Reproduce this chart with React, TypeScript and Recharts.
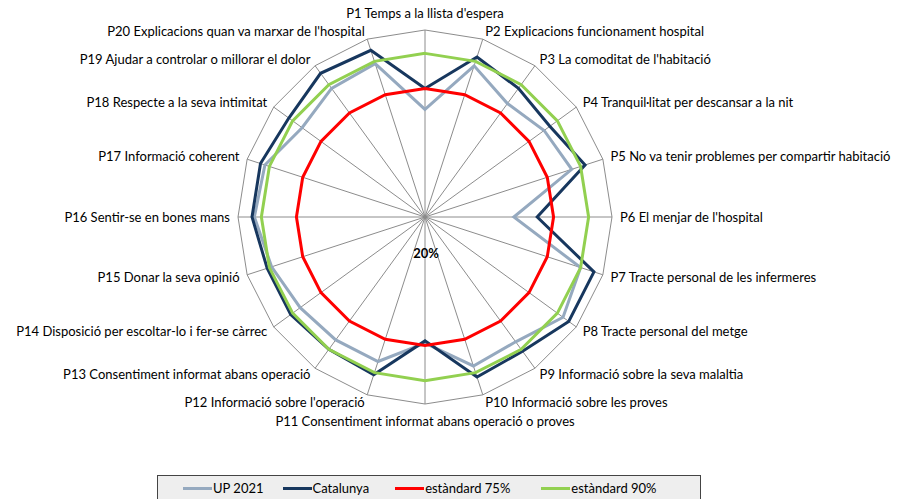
import React from 'react';
import { RadarChart, Radar, PolarGrid, PolarAngleAxis, PolarRadiusAxis, Legend } from 'recharts';

const categories = [
  "P1 Temps a la llista d'espera",
  'P2 Explicacions funcionament hospital',
  "P3 La comoditat de l'habitació",
  'P4 Tranquil·litat per descansar a la nit',
  'P5 No va tenir problemes per compartir habitació',
  "P6 El menjar de l'hospital",
  'P7 Tracte personal de les infermeres',
  'P8 Tracte personal del metge',
  'P9 Informació sobre la seva malaltia',
  'P10 Informació sobre les proves',
  'P11 Consentiment informat abans operació o proves',
  "P12 Informació sobre l'operació",
  'P13 Consentiment informat abans operació',
  'P14 Disposició per escoltar-lo i fer-se càrrec',
  'P15 Donar la seva opinió',
  'P16 Sentir-se en bones mans',
  'P17 Informació coherent',
  'P18 Respecte a la seva intimitat',
  'P19 Ajudar a controlar o millorar el dolor',
  "P20 Explicacions quan va marxar de l'hospital",
];

const up2021 = [0.66, 0.88, 0.8, 0.83, 0.86, 0.58, 0.9, 0.93, 0.86, 0.87, 0.74, 0.85, 0.85, 0.86, 0.89, 0.93, 0.92, 0.85, 0.88, 0.89];
const catalunya = [0.75, 0.92, 0.88, 0.86, 0.92, 0.68, 0.96, 0.96, 0.91, 0.92, 0.73, 0.91, 0.9, 0.91, 0.91, 0.94, 0.94, 0.92, 0.96, 0.95];
const std75 = [0.75, 0.75, 0.75, 0.75, 0.75, 0.75, 0.75, 0.75, 0.75, 0.75, 0.75, 0.75, 0.75, 0.75, 0.75, 0.75, 0.75, 0.75, 0.75, 0.75];
const std90 = [0.9, 0.9, 0.9, 0.9, 0.9, 0.9, 0.9, 0.9, 0.9, 0.9, 0.9, 0.9, 0.9, 0.9, 0.9, 0.9, 0.9, 0.9, 0.9, 0.9];

// radial axis runs from 20% (centre) to 100% (outer ring)
const AXIS_MIN = 0.2;
const AXIS_MAX = 1;

const series = [
  { key: 'up', name: 'UP 2021', color: '#95a9bf' },
  { key: 'cat', name: 'Catalunya', color: '#17375e' },
  { key: 's75', name: 'estàndard 75%', color: '#ff0000' },
  { key: 's90', name: 'estàndard 90%', color: '#92d050' },
];

// map a percentage onto the 20%..100% axis (0 = centre, 1 = outer ring)
const toAxis = (v: number) => +((v - AXIS_MIN) / (AXIS_MAX - AXIS_MIN)).toFixed(4);

const data = categories.map((name, i) => ({
  name,
  up: toAxis(up2021[i]),
  cat: toAxis(catalunya[i]),
  s75: toAxis(std75[i]),
  s90: toAxis(std90[i]),
}));

const CX = 417;
const CY = 209;
const R = 187;
const FONT = 'Lato, "Open Sans", sans-serif';

const AngleTick = (props: any) => {
  const { payload } = props;
  let idx = props.index;
  if (idx === undefined) idx = categories.indexOf(payload.value);
  const phi = (idx * 2 * Math.PI) / categories.length;
  const s = Math.sin(phi);
  const c = Math.cos(phi);
  const vy = CY - R * c;
  let x = CX + (R + 8) * s;
  let y = vy - 8 * c;
  let anchor: 'start' | 'end' | 'middle' = 'start';
  if (Math.abs(s) < 0.01) {
    anchor = 'middle';
    x = CX;
    y = vy - 17 * c;
  } else if (s < 0) {
    anchor = 'end';
  }
  return (
    <text x={x} y={y} dy={4.5} textAnchor={anchor} fontSize={13} fontFamily={FONT} fill="#000">
      {payload.value}
    </text>
  );
};

const RadiusTick = (props: any) => {
  if (props.index !== 0) return null;
  return (
    <text x={CX + 1} y={CY + 41} textAnchor="middle" fontSize={13} fontWeight="bold" fontFamily={FONT} fill="#000">
      {Math.round(AXIS_MIN * 100)}%
    </text>
  );
};

const LegendBox = () => (
  <div
    style={{
      width: 544,
      height: 26,
      boxSizing: 'border-box',
      border: '1px solid #444',
      background: '#eeeeee',
      display: 'flex',
      alignItems: 'center',
      fontFamily: FONT,
      fontSize: 13,
      color: '#000',
      paddingLeft: 25,
    }}
  >
    {series.map((s, i) => (
      <div key={s.key} style={{ display: 'flex', alignItems: 'center', marginRight: i === 0 ? 19 : i === 1 ? 26 : 31 }}>
        <span style={{ display: 'inline-block', width: 29, height: 3, background: s.color, marginRight: 1 }} />
        <span>{s.name}</span>
      </div>
    ))}
  </div>
);

export default function App() {
  return (
    <div style={{ width: 886, height: 491, position: 'relative' }}>
      <RadarChart width={886} height={491} data={data} cx={CX} cy={CY} outerRadius={R} margin={{ top: 0, right: 0, bottom: 0, left: 0 }}>
        <PolarGrid gridType="polygon" polarRadius={[R]} stroke="#8c8c8c" strokeWidth={1} />
        <PolarAngleAxis dataKey="name" tick={<AngleTick />} tickLine={false} axisLine={false} />
        <PolarRadiusAxis
          angle={270}
          type="number"
          domain={[0, 1]}
          tickCount={5}
          axisLine={false}
          tick={<RadiusTick />}
        />
        {series.map((s) => (
          <Radar
            key={s.key}
            name={s.name}
            dataKey={s.key}
            stroke={s.color}
            strokeWidth={3}
            fill="none"
            fillOpacity={0}
            dot={false}
            isAnimationActive={false}
          />
        ))}
        <Legend content={<LegendBox />} wrapperStyle={{ position: 'absolute', left: 149, top: 467, width: 544 }} />
      </RadarChart>
    </div>
  );
}
